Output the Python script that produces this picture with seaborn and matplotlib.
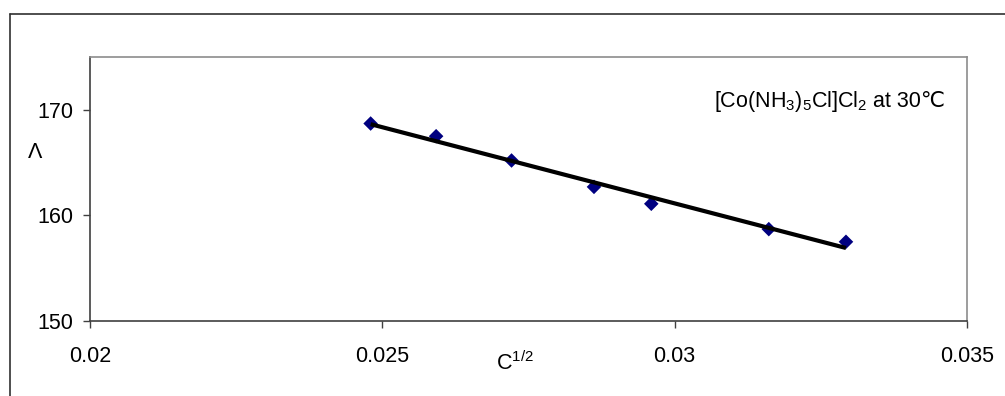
import matplotlib
matplotlib.use("Agg")
import matplotlib.pyplot as plt
from matplotlib.lines import Line2D
import numpy as np
import pandas as pd
import seaborn as sns

# Molar conductivity vs square root of concentration
sqrt_c = [0.02480, 0.02592, 0.02721, 0.02862, 0.02960, 0.03161, 0.03293]
molar_cond = [168.7, 167.5, 165.2, 162.7, 161.1, 158.7, 157.5]

x_ticks = [0.02, 0.025, 0.03, 0.035]
x_tick_labels = ["0.02", "0.025", "0.03", "0.035"]
y_ticks = [150, 160, 170]
y_tick_labels = ["150", "160", "170"]

df = pd.DataFrame({"sqrt_c": sqrt_c, "cond": molar_cond})

sns.set_theme(style="white")
plt.rcParams["font.family"] = ["Liberation Sans", "DejaVu Sans"]
plt.rcParams["mathtext.default"] = "regular"
plt.rcParams["mathtext.fontset"] = "custom"
plt.rcParams["mathtext.rm"] = "Liberation Sans"

fig = plt.figure(figsize=(10.05, 3.96), dpi=100)
fig.patch.set_facecolor("white")
ax = fig.add_axes([90 / 1005, 1 - 321 / 396, 877 / 1005, 264 / 396])

sns.regplot(
    data=df, x="sqrt_c", y="cond", ax=ax, ci=None, truncate=True,
    marker="D",
    scatter_kws=dict(s=55, color="#000080", edgecolors="none", alpha=1, zorder=2),
    line_kws=dict(color="black", lw=3.0, zorder=3, solid_capstyle="butt"),
)

ax.set_xlim(0.02, 0.035)
ax.set_ylim(150, 175)
ax.set_xticks(x_ticks)
ax.set_xticklabels(x_tick_labels)
ax.set_yticks(y_ticks)
ax.set_yticklabels(y_tick_labels)

ax.tick_params(axis="both", which="major", labelsize=15.5, colors="black",
               length=5, width=1, direction="out")
ax.tick_params(axis="x", pad=13, bottom=True, color="#404040")
ax.tick_params(axis="y", pad=7, left=True, color="#404040")

for side in ("left", "bottom"):
    ax.spines[side].set_color("#404040")
    ax.spines[side].set_linewidth(1.2)
for side in ("top", "right"):
    ax.spines[side].set_color("#8c8c8c")
    ax.spines[side].set_linewidth(1.2)

ax.set_xlabel("C$^{1/2}$", fontsize=15.5, color="black")
ax.xaxis.set_label_coords(0.485, -0.159)
ax.xaxis.label.set_va("center")

ax.set_ylabel("Λ", fontsize=15.5, color="black", rotation=0)
ax.yaxis.set_label_coords(-0.063, 0.64)
ax.yaxis.label.set_va("center")
ax.yaxis.label.set_ha("center")

# Compound label: formula with subscripts, then the temperature in plain text
formula = ax.text(0.711, 0.81, "[Co(NH$_3$)$_5$Cl]Cl$_2$", transform=ax.transAxes,
                  ha="left", va="baseline", fontsize=15.5, color="black")
fig.canvas.draw()
bb = formula.get_window_extent()
x_end = ax.transAxes.inverted().transform((bb.x1, bb.y0))[0]
ax.text(x_end, 0.81, " at 30℃", transform=ax.transAxes,
        ha="left", va="baseline", fontsize=15.5, color="black",
        family=["Liberation Sans", "DejaVu Sans"])

# Chart-area border (only left and top edges fall inside the canvas)
x0 = 9.5 / 1005
y0 = 1 - 13.5 / 396
fig.add_artist(Line2D([x0, x0], [0, y0], transform=fig.transFigure,
                      color="#303030", lw=1.2))
fig.add_artist(Line2D([x0, 1], [y0, y0], transform=fig.transFigure,
                      color="#303030", lw=1.2))

fig.savefig("out.png", dpi=100, facecolor="white")
